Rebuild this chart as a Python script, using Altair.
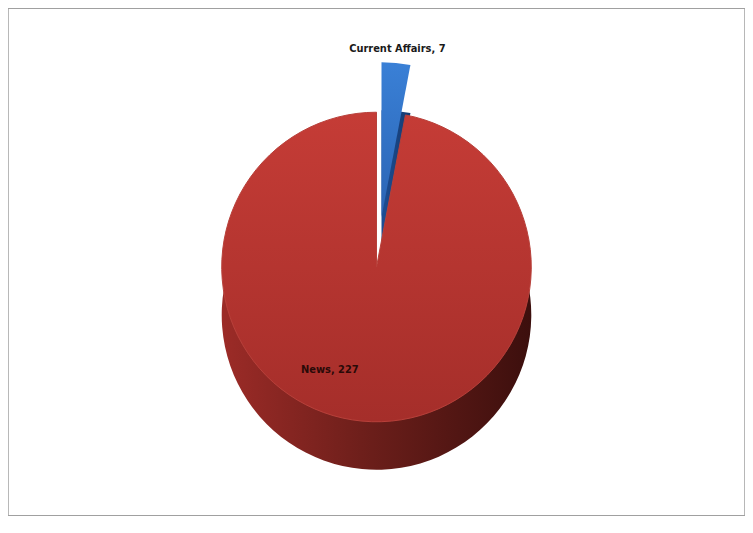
import altair as alt
import pandas as pd

categories = ["Current Affairs", "News"]
values = [7, 227]
labels = ["Current Affairs, 7", "News, 227"]

df = pd.DataFrame({"category": categories, "value": values, "label": labels})
total = sum(values)

W, H = 738, 508
R = 155          # pie radius
DEPTH = 48       # visual thickness of the pie
CX, CY = 369, 259
EXPLODE_DX, EXPLODE_DY = 5, -50
FONT = "DejaVu Sans Condensed, Liberation Sans, Arial, sans-serif"

base = (
    alt.Chart(df)
    .transform_window(end="sum(value)", sort=[alt.SortField("value", order="ascending")], frame=[None, 0])
    .transform_calculate(start="datum.end - datum.value", mid="datum.end - datum.value / 2")
)

theta_scale = alt.Scale(domain=[0, total])


def grad(stops, horizontal=True):
    return alt.Gradient(
        gradient="linear",
        stops=[alt.GradientStop(color=c, offset=o) for o, c in stops],
        x1=0, y1=0,
        x2=1 if horizontal else 0,
        y2=0 if horizontal else 1,
    )


def arc_layer(cat, cx, cy, fill, stroke=None):
    kw = dict(radius=R, fill=fill)
    if stroke:
        kw.update(stroke=stroke, strokeWidth=1)
    return (
        base.transform_filter(alt.datum.category == cat)
        .mark_arc(**kw)
        .encode(
            theta=alt.Theta("start:Q", scale=theta_scale),
            theta2="end:Q",
            x=alt.value(cx),
            y=alt.value(cy),
        )
    )


ca_side = arc_layer("Current Affairs", CX + EXPLODE_DX, CY + EXPLODE_DY + DEPTH,
                    grad([(0, "#1d4e94"), (1, "#153a70")]))
ca_top = arc_layer("Current Affairs", CX + EXPLODE_DX, CY + EXPLODE_DY,
                   grad([(0, "#3a80d6"), (1, "#2a64b4")], horizontal=False))
news_side = arc_layer("News", CX, CY + DEPTH,
                      grad([(0, "#9c2b27"), (0.45, "#6e1f1b"), (1, "#3c0f0d")]))
news_top = arc_layer("News", CX, CY,
                     grad([(0, "#c53c36"), (1, "#a52e2a")], horizontal=False),
                     stroke="#b8403a")

ca_label = (
    base.transform_filter(alt.datum.category == "Current Affairs")
    .mark_text(radius=R + 14, font=FONT, fontSize=11, fontWeight="bold", color="#1a1a1a")
    .encode(
        theta=alt.Theta("mid:Q", scale=theta_scale),
        text="label:N",
        x=alt.value(CX + EXPLODE_DX),
        y=alt.value(CY + EXPLODE_DY),
    )
)

news_label = (
    base.transform_filter(alt.datum.category == "News")
    .mark_text(radius=104, dx=-37, font=FONT, fontSize=11, fontWeight="bold", color="#2a0a08")
    .encode(
        theta=alt.Theta("mid:Q", scale=theta_scale),
        text="label:N",
        x=alt.value(CX),
        y=alt.value(CY),
    )
)

chart = (
    alt.layer(ca_side, ca_top, news_side, news_top, ca_label, news_label)
    .properties(width=W, height=H, padding=0, background="white")
    .configure_view(stroke="#a0a0a0", strokeWidth=1.5)
)

chart.save("out.html", embed_options={"renderer": "svg", "actions": False})
